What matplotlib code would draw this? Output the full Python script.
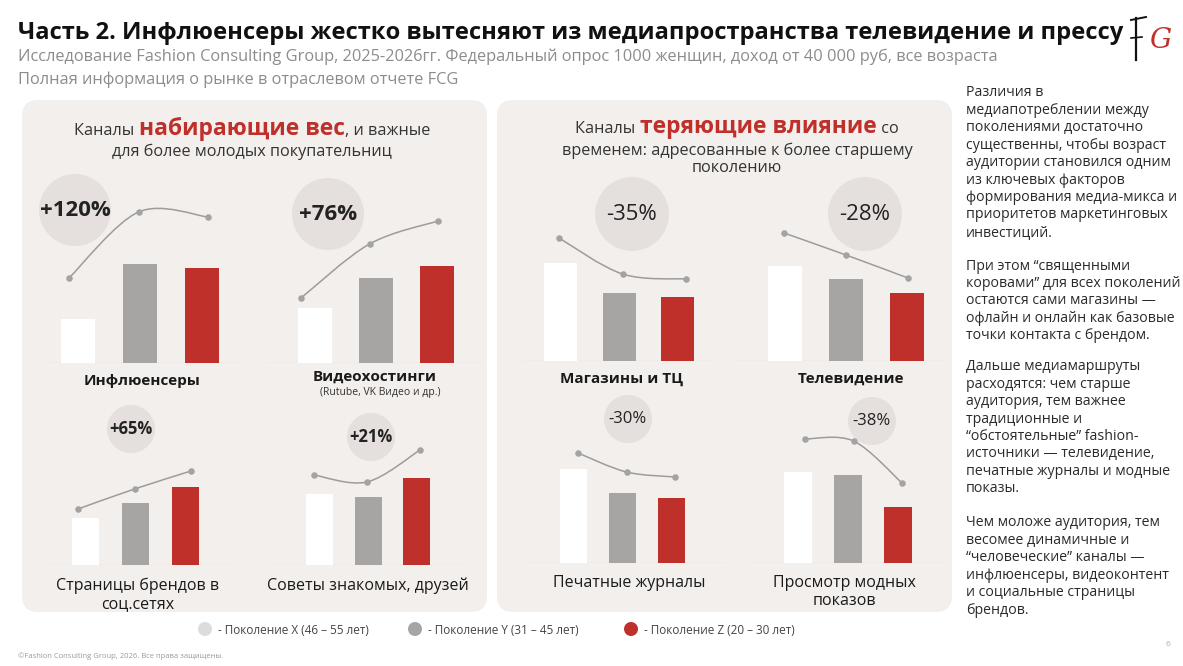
import numpy as np
import matplotlib
matplotlib.use("Agg")
import matplotlib.pyplot as plt
from matplotlib.patches import FancyBboxPatch, Circle, PathPatch
from matplotlib.path import Path

W, H = 1183, 666
plt.rcParams['font.family'] = ['Open Sans', 'DejaVu Sans']

# --- данные (относительные уровни) ---
channels = ["Инфлюенсеры", "Видеохостинги", "Страницы брендов в\nсоц.сетях",
            "Советы знакомых, друзей", "Магазины и ТЦ", "Телевидение",
            "Печатные журналы", "Просмотр модных\nпоказов"]
sublabels = ["", "(Rutube, VK Видео и др.)", "", "", "", "", "", ""]
change = ["+120%", "+76%", "+65%", "+21%", "-35%", "-28%", "-30%", "-38%"]
gen_x = [44, 55, 47, 71, 98, 95, 94, 91]
gen_y = [99, 85, 62, 68, 68, 82, 70, 88]
gen_z = [95, 97, 78, 87, 64, 68, 65, 56]
trend_x = [85, 65, 56, 90, 123, 128, 110, 124]
trend_y = [151, 119, 76, 83, 87, 106, 91, 122]
trend_z = [146, 142, 94, 115, 82, 83, 86, 80]
generations = ["- Поколение X (46 – 55 лет)", "- Поколение Y (31 – 45 лет)",
               "- Поколение Z (20 – 30 лет)"]

title = "Часть 2. Инфлюенсеры жестко вытесняют из медиапространства телевидение и прессу"
subtitle1 = ("Исследование Fashion Consulting Group, 2025-2026гг. Федеральный опрос "
             "1000 женщин, доход от 40 000 руб, все возраста")
subtitle2 = "Полная информация о рынке в отраслевом отчете FCG"
side_text = [
    ["Различия в", "медиапотреблении между", "поколениями достаточно",
     "существенны, чтобы возраст", "аудитории становился одним",
     "из ключевых факторов", "формирования медиа-микса и",
     "приоритетов маркетинговых", "инвестиций."],
    ["При этом “священными", "коровами” для всех поколений", "остаются сами магазины —",
     "офлайн и онлайн как базовые", "точки контакта с брендом."],
    ["Дальше медиамаршруты", "расходятся: чем старше", "аудитория, тем важнее",
     "традиционные и", "“обстоятельные” fashion-", "источники — телевидение,",
     "печатные журналы и модные", "показы."],
    ["Чем моложе аудитория, тем", "весомее динамичные и",
     "“человеческие” каналы —", "инфлюенсеры, видеоконтент",
     "и социальные страницы", "брендов."],
]

RED = "#c0302b"
GREY = "#a7a5a4"
BAR_COLORS = ["#ffffff", GREY, RED]
PANEL = "#f3efec"
BUBBLE = "#e5e0dd"

fig = plt.figure(figsize=(W / 100, H / 100), dpi=100)
bg = fig.add_axes([0, 0, 1, 1])
bg.set_xlim(0, W)
bg.set_ylim(H, 0)
bg.axis("off")

# заголовок, подгоняем размер под ширину
def fit_text(x, y, s, target_w, size, **kw):
    t = bg.text(x, y, s, fontsize=size, va="center", **kw)
    fig.canvas.draw()
    w = t.get_window_extent(fig.canvas.get_renderer()).width
    t.set_fontsize(size * target_w / w)
    return t.get_fontsize()

fit_text(18, 33, title, 1107, 16, weight="bold", color="#111111")
fs = fit_text(18, 57, subtitle1, 979, 11, color="#8c8c8c")
bg.text(18, 80, subtitle2, fontsize=fs, va="center", color="#8c8c8c")

# логотип
bg.plot([1136, 1136], [18, 60], color="#111111", lw=1.6)
bg.plot([1131, 1146], [20, 17], color="#111111", lw=1.4)
bg.plot([1131, 1142], [38, 37], color="#111111", lw=1.2)
bg.text(1160, 40, "G", fontsize=20, family="DejaVu Serif", style="italic",
        ha="center", va="center", color=RED)

# панели
for x0, x1 in [(22, 487), (497, 952)]:
    bg.add_patch(FancyBboxPatch((x0, 100), x1 - x0, 512,
                                boxstyle="round,pad=0,rounding_size=16",
                                fc=PANEL, ec="none"))

def rich_line(xc, y, parts):
    ts = [bg.text(0, y, s, va="baseline", **kw) for s, kw in parts]
    fig.canvas.draw()
    r = fig.canvas.get_renderer()
    ws = [t.get_window_extent(r).width for t in ts]
    x = xc - sum(ws) / 2
    for t, w in zip(ts, ws):
        t.set_x(x)
        x += w

norm = dict(fontsize=11.7, color="#333333")
accent = dict(fontsize=16.5, color=RED, weight="bold")
rich_line(252, 135, [("Каналы ", norm), ("набирающие вес", accent), (", и важные", norm)])
rich_line(252, 156, [("для более молодых покупательниц", norm)])
rich_line(737, 133, [("Каналы ", norm), ("теряющие влияние", accent), (" со", norm)])
rich_line(737, 155, [("временем: адресованные к более старшему", norm)])
rich_line(737, 172, [("поколению", norm)])

# раскладка графиков: left, right, baseline, bar0, step, width, line0, lstep,
# bubble cx, cy, r, pct size, label x, label y
layout = [
    (44, 243, 363, 34, 62, 34, 25, 69.5, 75, 210, 36, 16, 142, 381),
    (265, 482, 363, 50, 61, 34, 36, 68.5, 328, 214, 36, 16, 375, 377),
    (43, 235, 565, 42, 50, 27, 35, 56.5, 131, 429, 24, 12, 138, 595),
    (272, 465, 565, 47.5, 48.5, 27, 42, 53, 371, 437, 24, 12, 368, 586),
    (523, 715, 361, 37.5, 58.5, 33, 36, 63.5, 632, 214, 37, 16, 622, 379),
    (733, 945, 361, 52, 61, 34, 51, 62, 865, 214, 37, 16, 851, 379),
    (524, 725, 563, 49, 49, 27, 54, 48.5, 628, 419, 24, 12, 629, 583),
    (752, 945, 563, 45.5, 50, 28, 53, 48.5, 872, 421, 24, 12, 844, 592),
]

AX_H = 175

def smooth(xs, ys, t=1 / 6):
    p = np.column_stack([xs, ys]).astype(float)
    n = len(p)
    verts = [p[0]]
    codes = [Path.MOVETO]
    for i in range(n - 1):
        p0, p1, p2, p3 = p[max(i - 1, 0)], p[i], p[i + 1], p[min(i + 2, n - 1)]
        verts += [p1 + (p2 - p0) * t, p2 - (p3 - p1) * t, p2]
        codes += [Path.CURVE4] * 3
    return Path(verts, codes)

for i, (l, r, base, b0, st, bw, l0, lst, cx, cy, rad, pfs, lx, ly) in enumerate(layout):
    growing = i < 4
    bg.add_patch(Circle((cx, cy), rad, fc=BUBBLE, ec="none"))
    bg.text(cx, cy, change[i], ha="center", va="center", fontsize=pfs,
            weight="bold" if growing else "normal", color="#222222")
    top = i in (0, 1, 4, 5)
    bg.text(lx, ly, channels[i], ha="center", va="center",
            fontsize=11 if top else 11.5, weight="bold" if top else "normal",
            color="#1a1a1a", linespacing=1.15)
    if sublabels[i]:
        bg.text(lx + 5, ly + 16, sublabels[i], ha="center", va="center",
                fontsize=7.5, color="#333333")

    ax = fig.add_axes([l / W, 1 - base / H, (r - l) / W, AX_H / H])
    ax.set_xlim(0, r - l)
    ax.set_ylim(0, AX_H)
    ax.axis("off")
    ax.patch.set_alpha(0)
    ax.plot([0, r - l], [0, 0], color="#d9d4d0", lw=0.9, zorder=1)
    xs = b0 + st * np.arange(3)
    ax.bar(xs, [gen_x[i], gen_y[i], gen_z[i]], width=bw, color=BAR_COLORS, zorder=2)
    lxs = l0 + lst * np.arange(3)
    lys = [trend_x[i], trend_y[i], trend_z[i]]
    ax.add_patch(PathPatch(smooth(lxs, lys), fc="none", ec="#9c9c9c", lw=1.1, zorder=3))
    ax.scatter(lxs, lys, s=22, color="#a3a3a3", zorder=4, linewidths=0)

# легенда
for (dx, txt), col in zip([(205, generations[0]), (415, generations[1]), (631, generations[2])],
                          ["#dcdcdc", GREY, RED]):
    bg.add_patch(Circle((dx, 629), 7, fc=col, ec="none"))
    bg.text(dx + 13, 630, txt, va="center", fontsize=8.5, color="#444444")

bg.text(18, 656, "©Fashion Consulting Group, 2026. Все права защищены.",
        va="center", fontsize=5.5, color="#9a9a9a")
bg.text(1166, 645, "6", va="center", fontsize=6, color="#aaaaaa")

# правая колонка
starts = [93, 266, 367, 523]
for para, y0 in zip(side_text, starts):
    for k, line in enumerate(para):
        bg.text(966, y0 + k * 17.4, line, va="center", fontsize=10.2,
                color="#2a2a2a")

fig.savefig("out.png", dpi=100, facecolor="white")
